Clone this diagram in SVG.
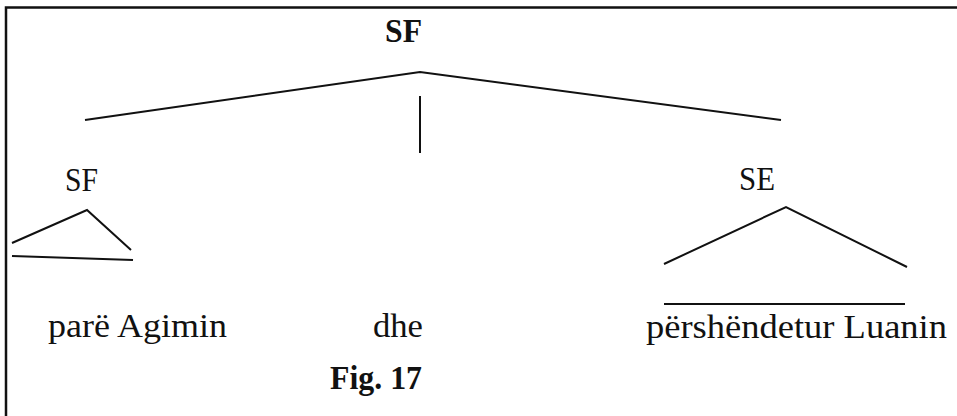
<svg xmlns="http://www.w3.org/2000/svg" width="957" height="416" viewBox="0 0 957 416">
  <style>
    .lbl { font-family: "Liberation Serif", "Times New Roman", serif; font-size: 33px; fill: #111; }
    .bold { font-weight: bold; }
    .edge { stroke: #111; stroke-width: 2; fill: none; stroke-linecap: butt; }
    .frame { stroke: #111; stroke-width: 2.5; fill: none; }
  </style>
  <rect width="957" height="416" fill="#fff"/>
  <!-- open frame: top and left sides -->
  <path class="frame" d="M6 416 V7.5 H957"/>

  <g id="root-sf">
    <text class="lbl bold" x="385" y="42" textLength="37" lengthAdjust="spacingAndGlyphs">SF</text>
  </g>
  <g id="left-sf">
    <text class="lbl" x="65" y="191" textLength="33" lengthAdjust="spacingAndGlyphs">SF</text>
  </g>
  <g id="right-se">
    <text class="lbl" x="739" y="190" textLength="36" lengthAdjust="spacingAndGlyphs">SE</text>
  </g>
  <g id="leaf-pare">
    <text class="lbl" x="48" y="337" textLength="179" lengthAdjust="spacingAndGlyphs">parë Agimin</text>
  </g>
  <g id="leaf-dhe">
    <text class="lbl" x="373" y="337" textLength="50" lengthAdjust="spacingAndGlyphs">dhe</text>
  </g>
  <g id="leaf-pershendetur">
    <text class="lbl" x="646" y="338" textLength="301" lengthAdjust="spacingAndGlyphs">përshëndetur Luanin</text>
  </g>
  <g id="caption">
    <text class="lbl bold" x="330" y="389" textLength="92" lengthAdjust="spacingAndGlyphs">Fig. 17</text>
  </g>

  <g id="connectors">
    <!-- top-level branches -->
    <polyline class="edge" points="85,120 420,72 781,120"/>
    <line class="edge" x1="420" y1="96" x2="420" y2="153"/>
    <!-- left SF triangle -->
    <polyline class="edge" points="12,243 87,210 131,250"/>
    <line class="edge" x1="12" y1="256" x2="133" y2="260"/>
    <!-- right SE triangle -->
    <polyline class="edge" points="664,264 786,207 907,267"/>
    <line class="edge" x1="664" y1="304" x2="905" y2="304"/>
  </g>
</svg>
